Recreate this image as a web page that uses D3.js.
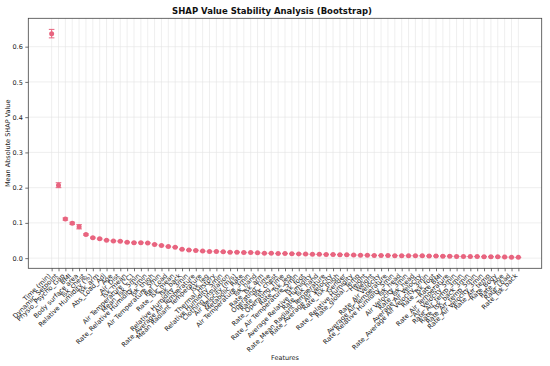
<!DOCTYPE html>
<html>
<head>
<meta charset="utf-8">
<script src="https://cdn.jsdelivr.net/npm/d3@7"></script>
<style>
  body { margin: 0; background: #fff; }
  svg { display: block; font-family: "DejaVu Sans", sans-serif; }
</style>
</head>
<body>
<div id="chart"></div>
<script>
////////////////////////////////////////////////////////////////////////////////
// Data
////////////////////////////////////////////////////////////////////////////////
var features = [
  "Time (min)", "Dynamic_Setpoint", "Physio_Psycho_Gap", "BMI", "Body surface area",
  "Tsk_chest", "Relative Humidity (%)", "Tsk_arm", "Abs_Load_Adj", "Age",
  "Air_Dist", "Tsk_mean", "Air Temperature (°C)", "Mean_Tsk_5min", "Rate_Relative Humidity_3min",
  "Tsk_thigh", "Air Temperature_5min", "Rel_Load", "Rate_Tsk_mean", "Tsk_back",
  "Relative Humidity_3min", "Rate_Average Air Temperature", "Mean Radiant Temperature", "Tsk_leg", "Thermal_History",
  "Relative Humidity_5min", "Clothing_Insulation", "Air Velocity (m/s)", "Metabolic_Rate", "Air Temperature_3min",
  "Tsk_hand", "Rate_Tsk_arm", "Operating_Time", "Rate_Tsk_chest", "Rate_Operating_Time",
  "Rate_Tsk_leg", "Rate_Air Temperature_5min", "Tsk_foot", "Average Relative Humidity", "Rate_Tsk_hand",
  "Rate_Mean Radiant Temperature", "Rate_Average Air Velocity", "Rate_Tsk_thigh", "Gender", "Rate_Relative Humidity",
  "Rate_global_Temp", "Height", "Weight", "Rate_Air Velocity", "Average Air Temperature",
  "Rate_Relative Humidity_5min", "Tsk_head", "Air Velocity_3min", "Rate_Tsk_head", "Average Air Velocity",
  "Rate_Average Air Velocity_3min", "Rate_Tsk_foot", "Rate_BMI", "Rate_Air Temperature", "Air_Velocity_5min",
  "Rate_Air_temp_3min", "Rate_Tsk_back_3min", "Rate_Air_temp_5min", "Rate_Air Velocity_3min", "Rate_Air_temp",
  "Rate_Body", "Rate_Age", "Rate_Load", "Rate_Tsk_back"
];

var meanShap = [
  0.637, 0.207, 0.111, 0.099, 0.089, 0.067, 0.058, 0.055, 0.051, 0.049,
  0.048, 0.045, 0.044, 0.044, 0.043, 0.039, 0.036, 0.033, 0.031, 0.025,
  0.023, 0.022, 0.020, 0.019, 0.019, 0.018, 0.017, 0.017, 0.016, 0.016,
  0.015, 0.014, 0.014, 0.013, 0.013, 0.0125, 0.012, 0.0115, 0.011, 0.0108,
  0.0105, 0.0102, 0.0098, 0.0095, 0.0088, 0.0085, 0.0083, 0.0078, 0.0076, 0.0074,
  0.0070, 0.0070, 0.0068, 0.0067, 0.0065, 0.0060, 0.0060, 0.0057, 0.0055, 0.0050,
  0.0048, 0.0047, 0.0045, 0.0040, 0.0039, 0.0037, 0.0030, 0.0028, 0.0022
];

var stdShap = [
  0.012, 0.007, 0.003, 0.003, 0.006, 0.002, 0.0015, 0.0015, 0.0012, 0.0012,
  0.0012, 0.0012, 0.001, 0.001, 0.001, 0.001, 0.001, 0.001, 0.001, 0.001,
  0.0008, 0.0008, 0.0008, 0.0008, 0.0008, 0.0008, 0.0006, 0.0006, 0.0006, 0.0006,
  0.0006, 0.0006, 0.0006, 0.0005, 0.0005, 0.0005, 0.0005, 0.0005, 0.0005, 0.0005,
  0.0005, 0.0005, 0.0005, 0.0004, 0.0004, 0.0004, 0.0004, 0.0004, 0.0004, 0.0004,
  0.0004, 0.0004, 0.0004, 0.0004, 0.0003, 0.0003, 0.0003, 0.0003, 0.0003, 0.0003,
  0.0003, 0.0003, 0.0003, 0.0003, 0.0003, 0.0003, 0.0002, 0.0002, 0.0002
];

var yTicks = [0.0, 0.1, 0.2, 0.3, 0.4, 0.5, 0.6];

////////////////////////////////////////////////////////////////////////////////
// Layout
////////////////////////////////////////////////////////////////////////////////
var width = 550, height = 366;
var plot = { left: 28.3, right: 541.7, top: 18.3, bottom: 268.3 };
var color = "#e8647f";

var svg = d3.select("#chart").append("svg")
   .attr("width", width)
   .attr("height", height);

var idx = features.map(function (d, i) { return i; });

// matplotlib-like 5% margins on a categorical axis
var x = d3.scalePoint()
   .domain(idx)
   .range([plot.left, plot.right])
   .padding(0.05 * (features.length - 1));

var y = d3.scaleLinear()
   .domain([-0.0288, 0.6805])
   .range([plot.bottom, plot.top]);

////////////////////////////////////////////////////////////////////////////////
// Grid
////////////////////////////////////////////////////////////////////////////////
var grid = svg.append("g").attr("class", "grid");

grid.selectAll("line.gx")
   .data(idx)
   .enter().append("line")
   .attr("class", "gx")
   .attr("x1", function (d) { return x(d); })
   .attr("x2", function (d) { return x(d); })
   .attr("y1", plot.top)
   .attr("y2", plot.bottom)
   .attr("stroke", "#e4e4e4")
   .attr("stroke-width", 0.6);

grid.selectAll("line.gy")
   .data(yTicks)
   .enter().append("line")
   .attr("class", "gy")
   .attr("x1", plot.left)
   .attr("x2", plot.right)
   .attr("y1", function (d) { return y(d); })
   .attr("y2", function (d) { return y(d); })
   .attr("stroke", "#e4e4e4")
   .attr("stroke-width", 0.6);

////////////////////////////////////////////////////////////////////////////////
// Axes
////////////////////////////////////////////////////////////////////////////////
var yAxis = svg.append("g")
   .attr("transform", "translate(" + plot.left + ",0)")
   .call(d3.axisLeft(y).tickValues(yTicks).tickFormat(d3.format(".1f")).tickSize(3).tickPadding(2.5));
yAxis.select(".domain").remove();
yAxis.selectAll("line").attr("stroke", "#333").attr("stroke-width", 0.7);
yAxis.selectAll("text")
   .attr("font-size", "6.5px")
   .attr("fill", "#222")
   .attr("font-family", "DejaVu Sans");

var xAxis = svg.append("g")
   .attr("transform", "translate(0," + plot.bottom + ")")
   .call(d3.axisBottom(x).tickSize(3).tickFormat(function (d) { return features[d]; }));
xAxis.select(".domain").remove();
xAxis.selectAll("line").attr("stroke", "#333").attr("stroke-width", 0.7);
// rotated labels, right end at the tick (like ha='right', rotation=45)
xAxis.selectAll("text")
   .attr("font-size", "6.6px")
   .attr("fill", "#1a1a1a")
   .attr("font-family", "DejaVu Sans")
   .attr("text-anchor", "end")
   .attr("y", 0)
   .attr("dy", 0)
   .attr("transform", "translate(-1,8) rotate(-45)");

// frame
svg.append("rect")
   .attr("x", plot.left)
   .attr("y", plot.top)
   .attr("width", plot.right - plot.left)
   .attr("height", plot.bottom - plot.top)
   .attr("fill", "none")
   .attr("stroke", "#444")
   .attr("stroke-width", 0.8);

////////////////////////////////////////////////////////////////////////////////
// Error bars + points
////////////////////////////////////////////////////////////////////////////////
var pts = svg.append("g").selectAll("g")
   .data(meanShap.map(function (d, i) { return { i: i, v: d, e: stdShap[i] }; }))
   .enter().append("g");

pts.append("line")
   .attr("x1", function (d) { return x(d.i); })
   .attr("x2", function (d) { return x(d.i); })
   .attr("y1", function (d) { return y(d.v - d.e); })
   .attr("y2", function (d) { return y(d.v + d.e); })
   .attr("stroke", color)
   .attr("stroke-width", 1);

[-1, 1].forEach(function (s) {
   pts.append("line")
      .attr("x1", function (d) { return x(d.i) - 2.8; })
      .attr("x2", function (d) { return x(d.i) + 2.8; })
      .attr("y1", function (d) { return y(d.v + s * d.e); })
      .attr("y2", function (d) { return y(d.v + s * d.e); })
      .attr("stroke", color)
      .attr("stroke-width", 1);
});

pts.append("circle")
   .attr("cx", function (d) { return x(d.i); })
   .attr("cy", function (d) { return y(d.v); })
   .attr("r", 2.5)
   .attr("fill", color);

////////////////////////////////////////////////////////////////////////////////
// Titles
////////////////////////////////////////////////////////////////////////////////
svg.append("text")
   .attr("x", 272)
   .attr("y", 14)
   .attr("text-anchor", "middle")
   .attr("font-size", "8.5px")
   .attr("font-weight", "bold")
   .attr("fill", "#111")
   .text("SHAP Value Stability Analysis (Bootstrap)");

svg.append("text")
   .attr("transform", "translate(10," + ((plot.top + plot.bottom) / 2) + ") rotate(-90)")
   .attr("text-anchor", "middle")
   .attr("font-size", "6.5px")
   .attr("fill", "#222")
   .text("Mean Absolute SHAP Value");

svg.append("text")
   .attr("x", 285)
   .attr("y", 360)
   .attr("text-anchor", "middle")
   .attr("font-size", "6.5px")
   .attr("fill", "#222")
   .text("Features");
</script>
</body>
</html>
